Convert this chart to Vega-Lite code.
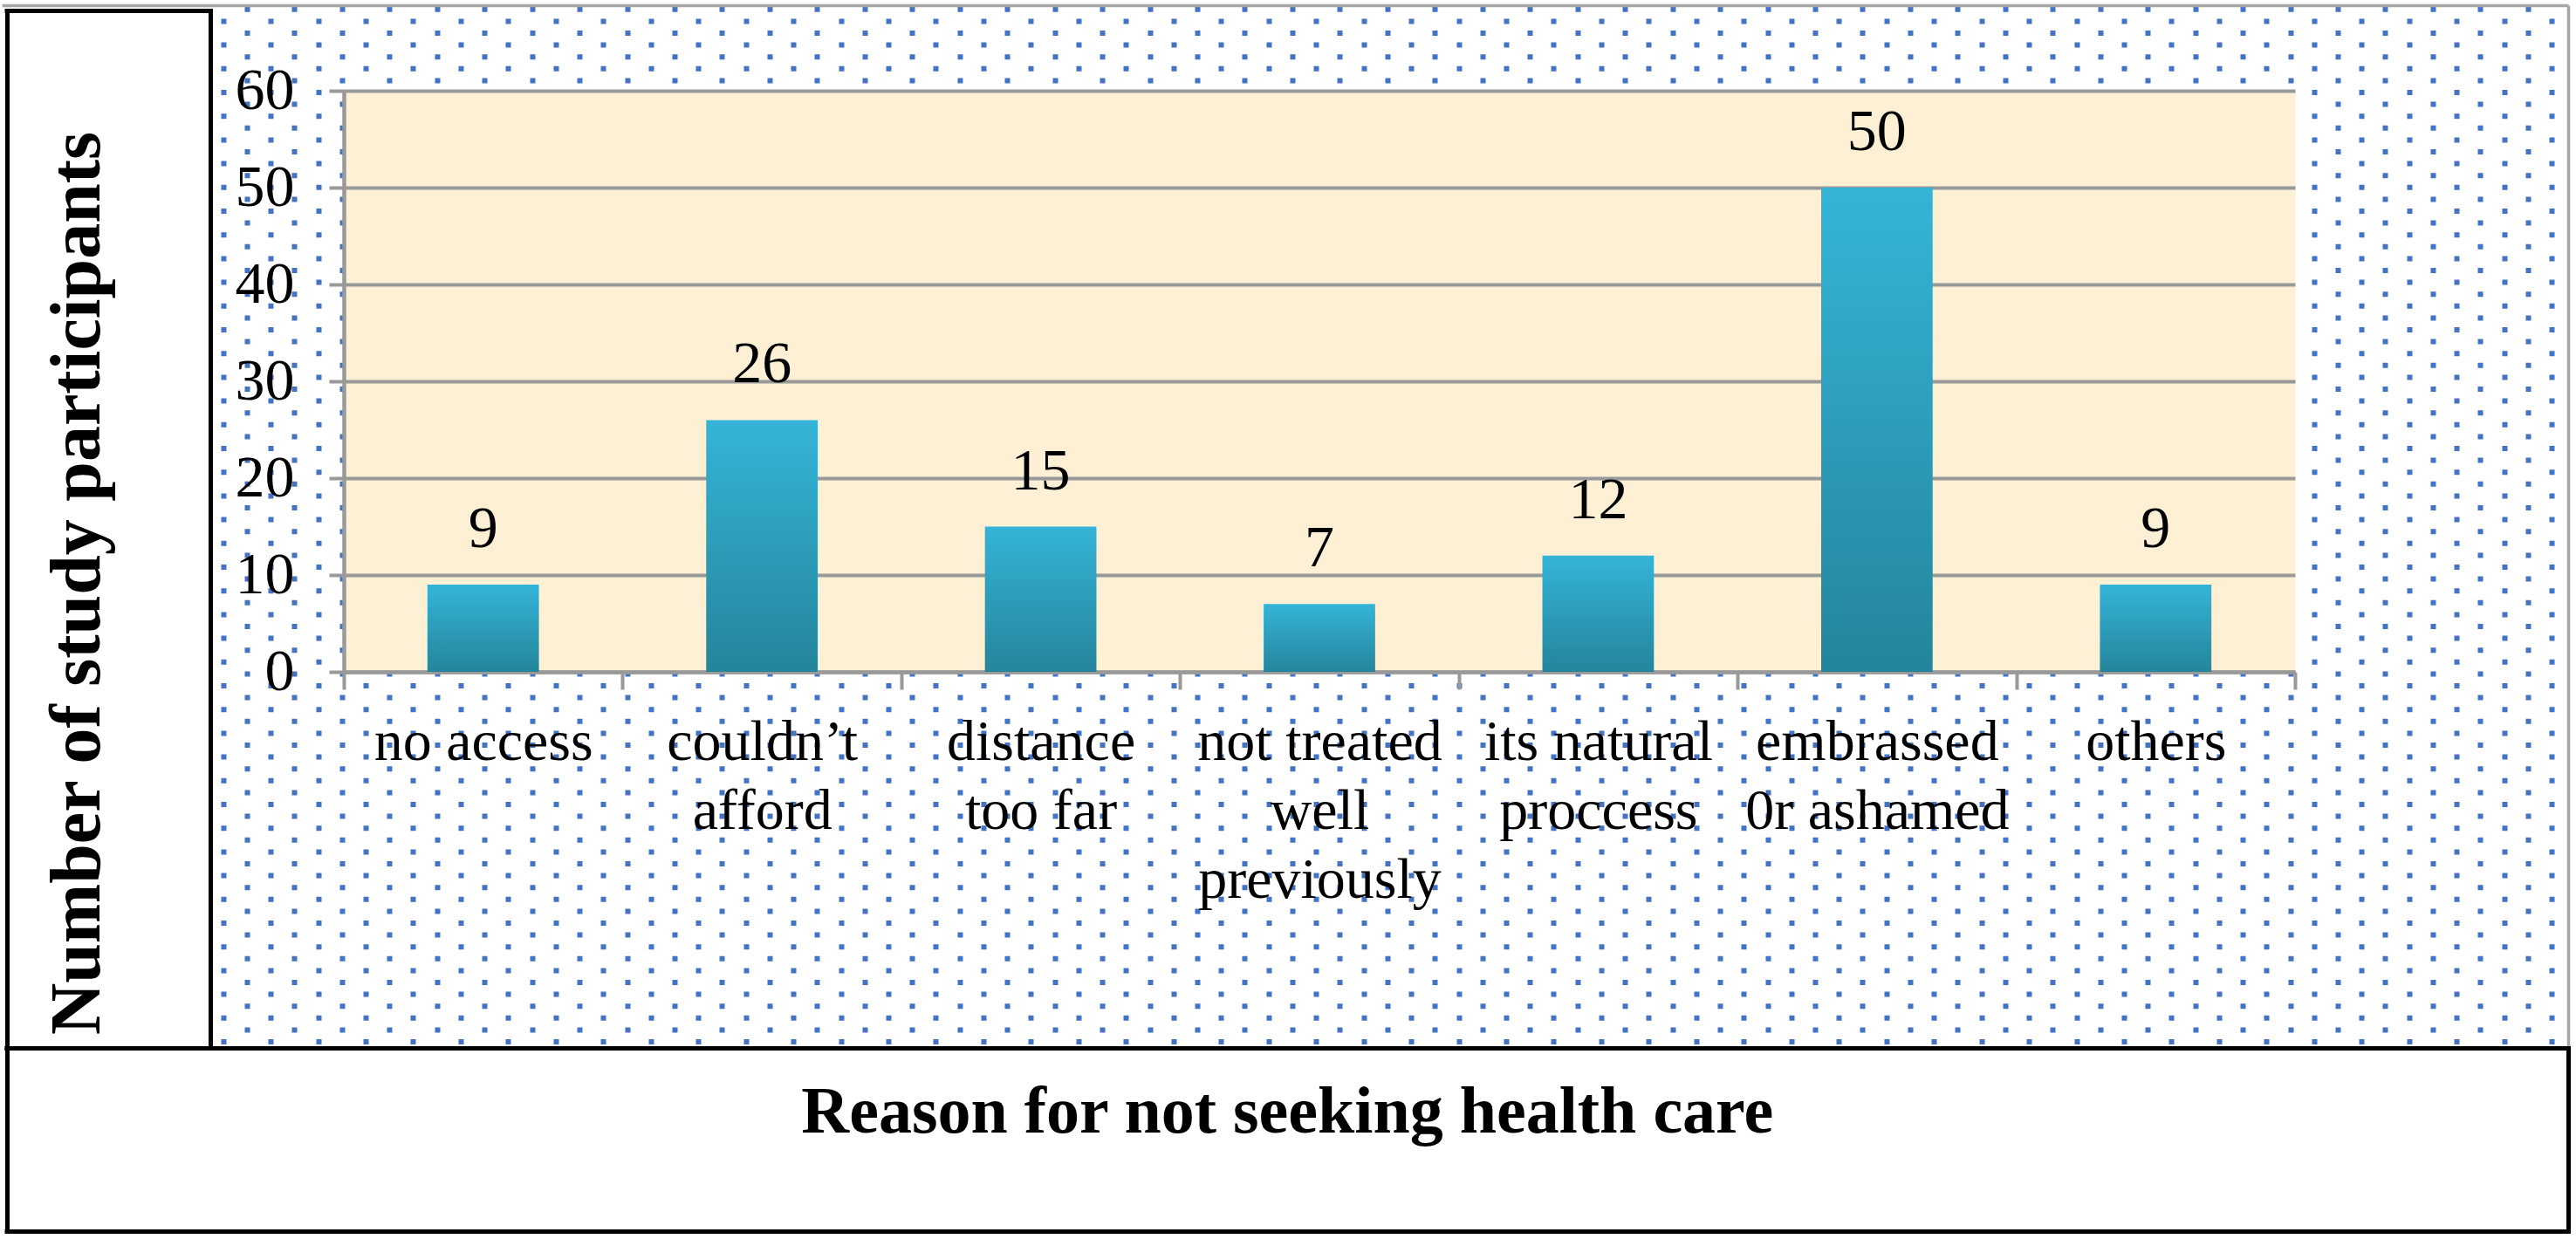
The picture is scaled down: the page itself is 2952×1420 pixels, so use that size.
{
  "$schema": "https://vega.github.io/schema/vega-lite/v6.json",
  "width": 2236,
  "height": 666,
  "autosize": {"type": "none"},
  "padding": {"left": 394, "top": 104, "right": 322, "bottom": 650},
  "background": "white",
  "config": {"view": {"stroke": null}},
  "data": {
    "values": [
      {"reason": "no access", "participants": 9},
      {"reason": "couldn’t\nafford", "participants": 26},
      {"reason": "distance\ntoo far", "participants": 15},
      {"reason": "not treated\nwell\npreviously", "participants": 7},
      {"reason": "its natural\nproccess", "participants": 12},
      {"reason": "embrassed\n0r ashamed", "participants": 50},
      {"reason": "others", "participants": 9}
    ]
  },
  "layer": [
    {
      "mark": {"type": "point", "opacity": 0},
      "encoding": {
        "x": {
          "datum": 1, "type": "quantitative",
          "scale": {"domain": [0, 1], "range": [-392, 2549], "nice": false, "zero": false},
          "axis": {"orient": "top", "values": [1], "grid": true, "gridColor": "#a6a6a6", "gridWidth": 3.5,
                   "labels": false, "ticks": false, "domain": false, "title": null}
        },
        "y": {
          "datum": 1, "type": "quantitative",
          "scale": {"domain": [0, 1], "range": [1097, -98], "nice": false, "zero": false},
          "axis": {"orient": "left", "values": [1], "grid": true, "gridColor": "#a6a6a6", "gridWidth": 3.5,
                   "labels": false, "ticks": false, "domain": false, "title": null}
        }
      }
    },
    {
      "mark": {"type": "point", "opacity": 0},
      "encoding": {
        "x": {
          "datum": 0, "type": "quantitative",
          "scale": {"domain": [0, 98], "range": [-138.4, 2530.1], "nice": false, "zero": false},
          "axis": {"orient": "top", "tickCount": 98, "tickMinStep": 1, "grid": true,
                   "gridColor": "#4472c4", "gridWidth": 6, "gridDash": [6, 21.2],
                   "gridDashOffset": {"condition": {"test": "datum.value % 2 === 1", "value": 13.6}, "value": 0},
                   "labels": false, "ticks": false, "domain": false, "title": null}
        },
        "y": {
          "datum": 0, "type": "quantitative",
          "scale": {"domain": [0, 1], "range": [1092.5, -98], "nice": false, "zero": false},
          "axis": null
        }
      }
    },
    {
      "data": {"values": [{"title": "Number of study participants"}]},
      "mark": {"type": "text", "angle": 270, "font": "Liberation Serif", "fontWeight": "bold", "fontSize": 82,
               "baseline": "alphabetic", "align": "center", "dx": -62, "dy": -10, "color": "black"},
      "encoding": {
        "text": {"field": "title"},
        "x": {
          "datum": 0.5, "type": "quantitative",
          "scale": {"domain": [0, 1], "range": [-386.5, -153], "nice": false, "zero": false},
          "axis": {"orient": "top", "values": [0, 1], "grid": true, "gridColor": "black", "gridWidth": 5, "gridCap": "square",
                   "labels": false, "ticks": false, "domain": false, "title": null}
        },
        "y": {
          "datum": 0.5, "type": "quantitative",
          "scale": {"domain": [0, 1], "range": [1097, -92], "nice": false, "zero": false},
          "axis": {"orient": "left", "values": [0, 1], "grid": true, "gridColor": "black", "gridWidth": 5, "gridCap": "square",
                   "labels": false, "ticks": false, "domain": false, "title": null}
        }
      }
    },
    {
      "data": {"values": [{"title": "Reason for not seeking health care"}]},
      "mark": {"type": "text", "font": "Liberation Serif", "fontWeight": "bold", "fontSize": 76,
               "baseline": "alphabetic", "align": "center", "dy": -8, "color": "black"},
      "encoding": {
        "text": {"field": "title"},
        "x": {
          "datum": 0.5, "type": "quantitative",
          "scale": {"domain": [0, 1], "range": [-386.5, 2549], "nice": false, "zero": false},
          "axis": {"orient": "top", "values": [0, 1], "grid": true, "gridColor": "black", "gridWidth": 5, "gridCap": "square",
                   "labels": false, "ticks": false, "domain": false, "title": null}
        },
        "y": {
          "datum": 0.5, "type": "quantitative",
          "scale": {"domain": [0, 1], "range": [1307, 1097], "nice": false, "zero": false},
          "axis": {"orient": "left", "values": [0, 1], "grid": true, "gridColor": "black", "gridWidth": 5, "gridCap": "square",
                   "labels": false, "ticks": false, "domain": false, "title": null}
        }
      }
    },
    {
      "mark": {"type": "point", "opacity": 0},
      "encoding": {
        "y": {
          "datum": 30, "type": "quantitative",
          "scale": {"domain": [0, 60], "nice": false, "zero": false},
          "axis": {"orient": "left", "values": [30], "grid": true, "gridColor": "#fdf0d5", "gridWidth": 666,
                   "labels": false, "ticks": false, "domain": false, "title": null}
        }
      }
    },
    {
      "encoding": {
        "x": {
          "field": "reason", "type": "nominal", "sort": null,
          "scale": {"paddingInner": 0, "paddingOuter": 0},
          "axis": {
            "orient": "bottom", "title": null, "grid": false, "labelAngle": 0,
            "labelExpr": "split(datum.label, '\\n')",
            "labelFont": "Liberation Serif", "labelFontSize": 66, "labelColor": "black",
            "labelLineHeight": 79, "labelPadding": 28, "labelLimit": 0, "labelOverlap": false,
            "labelBaseline": "top", "tickBand": "extent", "tickSize": 20,
            "tickColor": "#999999", "tickWidth": 4, "domainColor": "#999999", "domainWidth": 4.5
          }
        },
        "y": {
          "field": "participants", "type": "quantitative",
          "scale": {"domain": [0, 60], "nice": false},
          "axis": {
            "orient": "left", "title": null, "values": [0, 10, 20, 30, 40, 50, 60],
            "grid": true, "gridColor": "#999999", "gridWidth": 4,
            "domainColor": "#999999", "domainWidth": 4.5,
            "tickColor": "#999999", "tickWidth": 4, "tickSize": 17,
            "labelFont": "Liberation Serif", "labelFontSize": 68, "labelColor": "black", "labelPadding": 40
          }
        }
      },
      "layer": [
        {
          "mark": {
            "type": "bar",
            "width": {"band": 0.4},
            "color": {
              "gradient": "linear", "x1": 0, "y1": 0, "x2": 0, "y2": 1,
              "stops": [
                {"offset": 0, "color": "#35b4d8"},
                {"offset": 1, "color": "#24859b"}
              ]
            }
          }
        },
        {
          "mark": {"type": "text", "baseline": "alphabetic", "dy": -43, "font": "Liberation Serif",
                   "fontSize": 68, "color": "black"},
          "encoding": {"text": {"field": "participants", "type": "quantitative"}}
        }
      ]
    }
  ],
  "resolve": {
    "scale": {"x": "independent", "y": "independent"},
    "axis": {"x": "independent", "y": "independent"}
  }
}
